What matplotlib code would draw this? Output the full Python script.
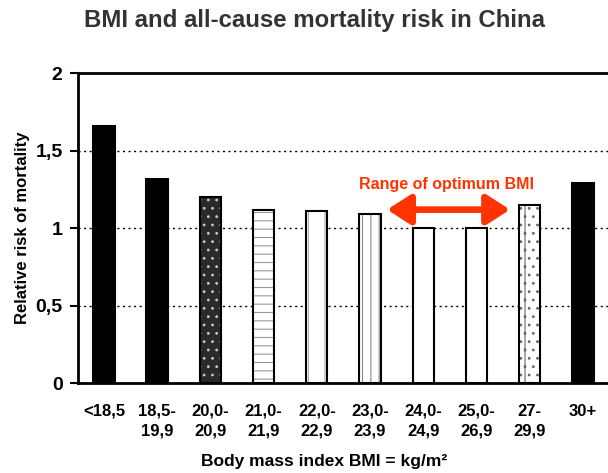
import matplotlib.pyplot as plt

plt.rcParams['font.family'] = ['Liberation Sans', 'DejaVu Sans']
plt.rcParams['hatch.linewidth'] = 0.8

groups = ['<18,5', '18,5-\n19,9', '20,0-\n20,9', '21,0-\n21,9', '22,0-\n22,9',
          '23,0-\n23,9', '24,0-\n24,9', '25,0-\n26,9', '27-\n29,9', '30+']
risk = [1.66, 1.32, 1.20, 1.12, 1.11, 1.09, 1.00, 1.00, 1.15, 1.29]
fills = ['black', 'black', '#2a2a2a', 'white', 'white', 'white', 'white', 'white', 'white', 'black']
hatches = [None, None, '..', '--', '|', '||', None, None, '|..', None]
hatch_colors = [None, None, '#c8c8c8', '#999999', '#aaaaaa', '#888888', None, None, '#666666', None]

fig = plt.figure(figsize=(6.08, 4.73), dpi=100)
ax = fig.add_axes([0.128, 0.19, 0.872, 0.655])

x = list(range(len(groups)))
# fill + pattern layer, then the black outline on top
for i in x:
    ax.bar(i, risk[i], width=0.4, color=fills[i], hatch=hatches[i],
           edgecolor=hatch_colors[i] or fills[i], linewidth=0, zorder=3)
ax.bar(x, risk, width=0.4, fill=False, edgecolor='black', linewidth=1.5, zorder=4)

ax.set_ylim(0, 2)
ax.set_xlim(-0.49, 9.47)
ax.set_yticks([0, 0.5, 1, 1.5, 2])
ax.set_yticklabels(['0', '0,5', '1', '1,5', '2'], fontsize=14, fontweight='bold')
ax.set_xticks(x)
ax.set_xticklabels(groups, fontsize=12, fontweight='bold', linespacing=1.35)
ax.tick_params(axis='x', length=0, pad=15)
ax.tick_params(axis='y', length=6, width=1.5, direction='out', pad=5)

for y in [0.5, 1, 1.5]:
    ax.axhline(y, color='black', linewidth=1, linestyle=(0, (1.5, 2.5)), zorder=1)

for side in ['left', 'top', 'bottom']:
    ax.spines[side].set_linewidth(2)
ax.spines['right'].set_visible(False)

ax.set_ylabel('Relative risk of mortality', fontsize=12, fontweight='bold', labelpad=4)
fig.text(0.533, 0.025, 'Body mass index BMI = kg/m²', fontsize=12.5,
         fontweight='bold', ha='center', va='center')

# optimum range marker
red = '#ff3300'
ax.annotate('', xy=(5.32, 1.12), xytext=(7.63, 1.12),
            arrowprops=dict(arrowstyle='<|-|>,head_length=0.7,head_width=0.45',
                            color=red, lw=4.8, mutation_scale=20,
                            shrinkA=0, shrinkB=0))
ax.text(6.43, 1.28, 'Range of optimum BMI', color=red, fontsize=11.5,
        fontweight='bold', ha='center', va='center')

fig.text(0.518, 0.956, 'BMI and all-cause mortality risk in China', fontsize=17.3,
         fontweight='bold', color='#333333', ha='center', va='center')

fig.savefig('out.png', dpi=100)
